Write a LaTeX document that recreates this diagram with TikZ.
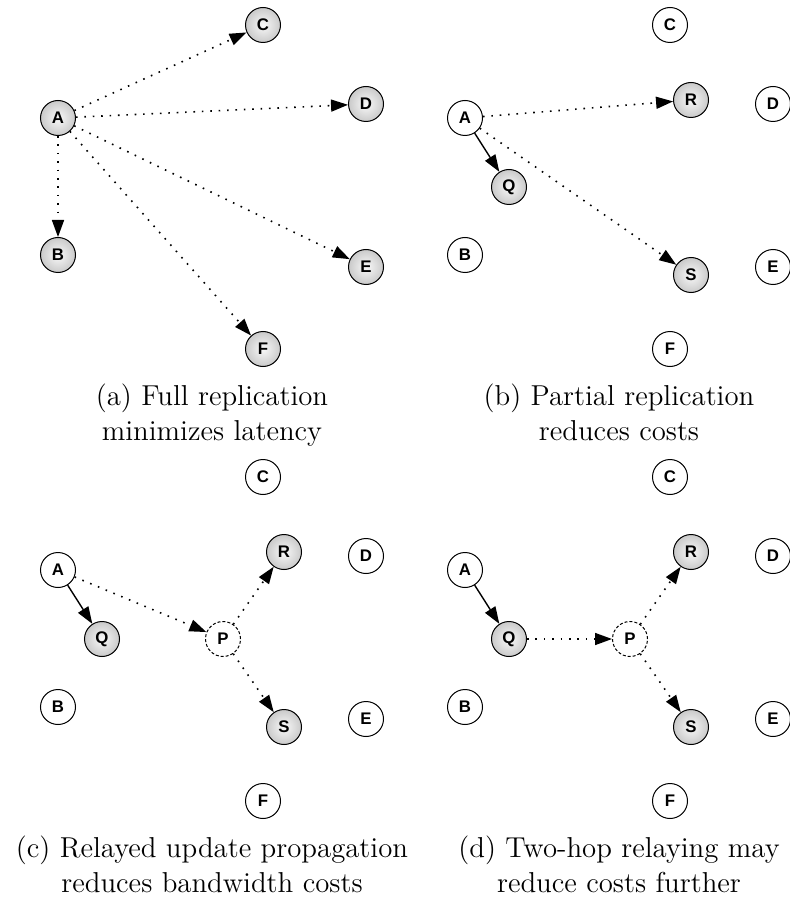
\documentclass[tikz,border=0pt]{standalone}
\usepackage{fontspec}
\newfontfamily\sitefont{Liberation Sans}
\usetikzlibrary{arrows.meta}

\begin{document}
\begin{tikzpicture}[x=0.5pt, y=-0.5pt,
  site/.style={draw, circle, line width=0.5pt, minimum size=17.5pt, inner sep=0pt,
    font=\sitefont\bfseries\fontsize{8.4}{9}\selectfont},
  replica/.style={site, inner color=gray!5, outer color=gray!42},
  relay/.style={site, dash pattern=on 1.5pt off 1pt},
  lazy/.style={-{Triangle[length=8.5pt, width=6pt]}, line width=0.8pt, dash pattern=on 0.8pt off 3.4pt},
  sync/.style={-{Triangle[length=8.5pt, width=6pt]}, line width=0.7pt},
  caption/.style={anchor=north, align=center, font=\fontsize{14.4}{17.5}\selectfont}]
  \useasboundingbox (0,0) rectangle (789,903);

  % (a) full replication
  \node[replica] (aA) at (58,118) {A};
  \node[replica] (aB) at (58,255) {B};
  \node[replica] (aC) at (263,25) {C};
  \node[replica] (aD) at (366,104) {D};
  \node[replica] (aE) at (366,267) {E};
  \node[replica] (aF) at (263,349) {F};
  \draw[lazy] (aA) -- (aC);
  \draw[lazy] (aA) -- (aD);
  \draw[lazy] (aA) -- (aE);
  \draw[lazy] (aA) -- (aF);
  \draw[lazy] (aA) -- (aB);
  \node[caption] (acap) at (212,377) {(a) Full replication\\ minimizes latency};

  % (b) partial replication
  \begin{scope}[shift={(407,0)}]
    \node[site] (bA) at (58,118) {A};
    \node[site] (bB) at (58,255) {B};
    \node[site] (bC) at (263,25) {C};
    \node[site] (bD) at (366,104) {D};
    \node[site] (bE) at (366,267) {E};
    \node[site] (bF) at (263,349) {F};
    \node[replica] (bQ) at (102,187) {Q};
    \node[replica] (bR) at (284,100) {R};
    \node[replica] (bS) at (284,275) {S};
    \draw[sync] (bA) -- (bQ);
    \draw[lazy] (bA) -- (bR);
    \draw[lazy] (bA) -- (bS);
    \node[caption] (bcap) at (212,377) {(b) Partial replication\\ reduces costs};
  \end{scope}

  % (c) relayed propagation
  \begin{scope}[shift={(0,452)}]
    \node[site] (cA) at (58,118) {A};
    \node[site] (cB) at (58,255) {B};
    \node[site] (cC) at (263,25) {C};
    \node[site] (cD) at (366,104) {D};
    \node[site] (cE) at (366,267) {E};
    \node[site] (cF) at (263,349) {F};
    \node[replica] (cQ) at (102,187) {Q};
    \node[replica] (cR) at (284,100) {R};
    \node[replica] (cS) at (284,275) {S};
    \node[relay] (cP) at (223,187) {P};
    \draw[sync] (cA) -- (cQ);
    \draw[lazy] (cA) -- (cP);
    \draw[lazy] (cP) -- (cR);
    \draw[lazy] (cP) -- (cS);
    \node[caption] (ccap) at (212,377) {(c) Relayed update propagation\\ reduces bandwidth costs};
  \end{scope}

  % (d) two-hop relaying
  \begin{scope}[shift={(407,452)}]
    \node[site] (dA) at (58,118) {A};
    \node[site] (dB) at (58,255) {B};
    \node[site] (dC) at (263,25) {C};
    \node[site] (dD) at (366,104) {D};
    \node[site] (dE) at (366,267) {E};
    \node[site] (dF) at (263,349) {F};
    \node[replica] (dQ) at (102,187) {Q};
    \node[replica] (dR) at (284,100) {R};
    \node[replica] (dS) at (284,275) {S};
    \node[relay] (dP) at (223,187) {P};
    \draw[sync] (dA) -- (dQ);
    \draw[lazy] (dQ) -- (dP);
    \draw[lazy] (dP) -- (dR);
    \draw[lazy] (dP) -- (dS);
    \node[caption] (dcap) at (212,377) {(d) Two-hop relaying may\\ reduce costs further};
  \end{scope}
\end{tikzpicture}
\end{document}
